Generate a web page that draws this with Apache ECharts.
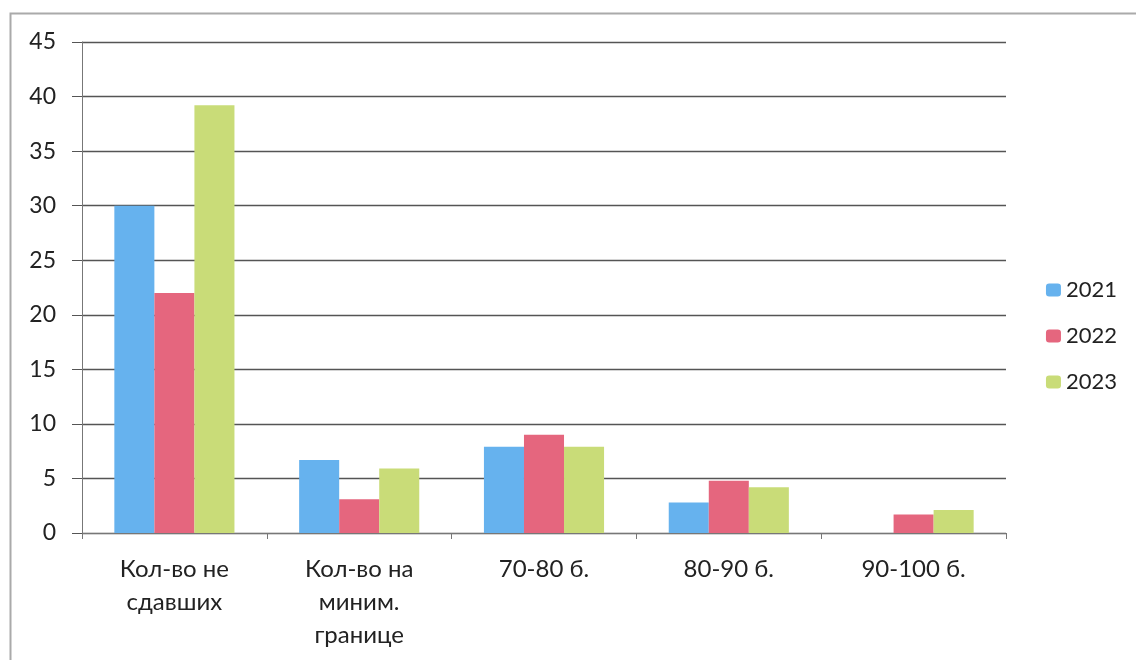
<!DOCTYPE html>
<html><head><meta charset="utf-8">
<script src="https://cdn.jsdelivr.net/npm/echarts@6/dist/echarts.min.js"></script>
<style>html,body{margin:0;padding:0;background:#fff}#c{width:1136px;height:660px}</style>
</head><body><div id="c"></div>
<script>
const categories = ['Кол-во не\nсдавших', 'Кол-во на\nминим.\nгранице', '70-80 б.', '80-90 б.', '90-100 б.'];
const seriesNames = ['2021', '2022', '2023'];
const v2021 = [30, 6.7, 7.9, 2.8, 0];
const v2022 = [22, 3.1, 9, 4.8, 1.7];
const v2023 = [39.2, 5.9, 7.9, 4.2, 2.1];
const colors = ['#66B2EE', '#E5667E', '#C9DC78'];

const chart = echarts.init(document.getElementById('c'), null, {renderer: 'canvas'});
const font = 'Lato, "Open Sans", sans-serif';
const data = [v2021, v2022, v2023];
chart.setOption({
  animation: false,
  textStyle: {fontFamily: font},
  grid: {left: 82, right: 130, top: 42, bottom: 127, containLabel: false},
  legend: {
    orient: 'vertical', right: 14, top: 274,
    itemWidth: 15, itemHeight: 13, itemGap: 24,
    textStyle: {fontSize: 22, color: '#222', fontFamily: font},
    data: seriesNames
  },
  xAxis: {
    type: 'category', data: categories,
    axisLine: {lineStyle: {color: '#777', width: 1}},
    axisTick: {show: true, length: 6, lineStyle: {color: '#777'}},
    axisLabel: {fontSize: 24, color: '#222', lineHeight: 33, margin: 20, interval: 0}
  },
  yAxis: {
    type: 'value', min: 0, max: 45, interval: 5,
    axisLine: {show: true, lineStyle: {color: '#777', width: 1}},
    axisTick: {show: true, length: 10, lineStyle: {color: '#555'}},
    axisLabel: {fontSize: 23, color: '#222', margin: 26},
    splitLine: {lineStyle: {color: '#555', width: 1.4}}
  },
  graphic: [{
    type: 'rect', shape: {x: 10.5, y: 13.5, width: 1140, height: 660},
    style: {fill: 'none', stroke: '#aaa', lineWidth: 2}, silent: true
  }],
  series: data.map((d, i) => ({
    name: seriesNames[i], type: 'bar', data: d,
    barGap: '0%', barCategoryGap: '35%',
    itemStyle: {color: colors[i]}
  }))
});
</script></body></html>
